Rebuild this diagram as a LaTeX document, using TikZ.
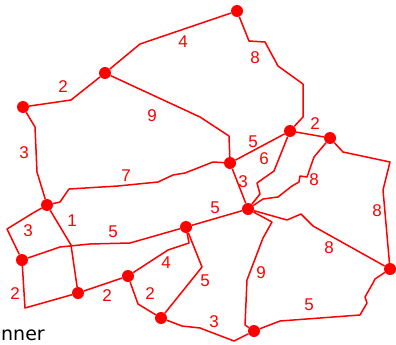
\documentclass[tikz,border=0pt]{standalone}
\usepackage{fontspec}
\setmainfont{Liberation Sans}
\newfontfamily\capfont{DejaVu Sans}
\usepackage{tikz}
\usetikzlibrary{positioning}

\begin{document}
\begin{tikzpicture}[x=1pt,y=-1pt,
  city/.style={circle,fill=red,inner sep=0pt,minimum size=12pt},
  road/.style={red,line width=1.5pt,line join=round},
  wt/.style={text=red,inner sep=0pt,font=\fontsize{17}{20}\selectfont}]
\useasboundingbox (0,0) rectangle (396,345);
\node[city] (a) at (237,11) {};
\node[city] (b) at (105,73) {};
\node[city] (c) at (23,107) {};
\node[city] (d) at (47,205) {};
\node[city] (e) at (230,163) {};
\node[city] (f) at (290,131) {};
\node[city] (g) at (330,138) {};
\node[city] (h) at (248,209) {};
\node[city] (i) at (186,227) {};
\node[city] (j) at (22,260) {};
\node[city] (k) at (78,293) {};
\node[city] (l) at (128,276) {};
\node[city] (m) at (161,318) {};
\node[city] (n) at (254,331) {};
\node[city] (o) at (390,269) {};
\draw[road] (a) -- (140,44) -- (b);
\draw[road] (a) -- (249,41) -- (265,42) -- (278,66) -- (303,84) -- (303,117) -- (f);
\draw[road] (b) -- (71,100) -- (c);
\draw[road] (b) -- (200,117) -- (229,136) -- (e);
\draw[road] (c) -- (35,127) -- (37,172) -- (d);
\draw[road] (d) -- (60,202) -- (69,189) -- (118,186) -- (158,182) -- (173,175) -- (185,173) -- (213,162) -- (e);
\draw[road] (d) -- (33,213) -- (7,229) -- (j);
\draw[road] (d) -- (71,245) -- (k);
\draw[road] (j) -- (60,247) -- (90,244) -- (130,243) -- (i);
\draw[road] (j) -- (25,308) -- (k);
\draw[road] (k) -- (l);
\draw[road] (l) -- (168,250) -- (189,243) -- (i);
\draw[road] (i) -- (202,267) -- (m);
\draw[road] (l) -- (138,304) -- (m);
\draw[road] (m) -- (182,326) -- (200,328) -- (234,341) -- (n);
\draw[road] (i) -- (h);
\draw[road] (h) -- (272,222) -- (263,238) -- (247,280) -- (245,325) -- (n);
\draw[road] (n) -- (280,321) -- (360,315) -- (367,303) -- (365,297) -- (373,283) -- (375,279) -- (o);
\draw[road] (h) -- (287,220) -- (301,214) -- (313,226) -- (o);
\draw[road] (g) -- (343,152) -- (390,162) -- (383,190) -- (o);
\draw[road] (f) -- (g);
\draw[road] (e) -- (f);
\draw[road] (f) -- (274,171) -- (257,183) -- (260,194) -- (h);
\draw[road] (g) -- (314,157) -- (307,177) -- (300,176) -- (299,182) -- (292,186) -- (278,197) -- (263,199) -- (h);
\draw[road] (e) -- (h);
\node[wt] (w1) at (183,42) {4};
\node[wt] (w2) at (255,58) {8};
\node[wt] (w3) at (63,87) {2};
\node[wt] (w4) at (152,116) {9};
\node[wt] (w5) at (24,153) {3};
\node[wt] (w6) at (126,176) {7};
\node[wt] (w7) at (28,231) {3};
\node[wt] (w8) at (72,221) {1};
\node[wt] (w9) at (113,232) {5};
\node[wt] (w10) at (15,294) {2};
\node[wt] (w11) at (107,296) {2};
\node[wt] (w12) at (166,263) {4};
\node[wt] (w13) at (205,281) {5};
\node[wt] (w14) at (150,294) {2};
\node[wt] (w15) at (214,322) {3};
\node[wt] (w16) at (215,208) {5};
\node[wt] (w17) at (261,273) {9};
\node[wt] (w18) at (309,305) {5};
\node[wt] (w19) at (329,248) {8};
\node[wt] (w20) at (377,211) {8};
\node[wt] (w21) at (315,124) {2};
\node[wt] (w22) at (253,142) {5};
\node[wt] (w23) at (264,159) {6};
\node[wt] (w24) at (243,182) {3};
\node[wt] (w25) at (314,180) {8};
\node[anchor=base west,inner sep=0pt,font=\capfont\fontsize{19}{22}\selectfont] (cap) at (1,340) {nner};
\end{tikzpicture}
\end{document}
